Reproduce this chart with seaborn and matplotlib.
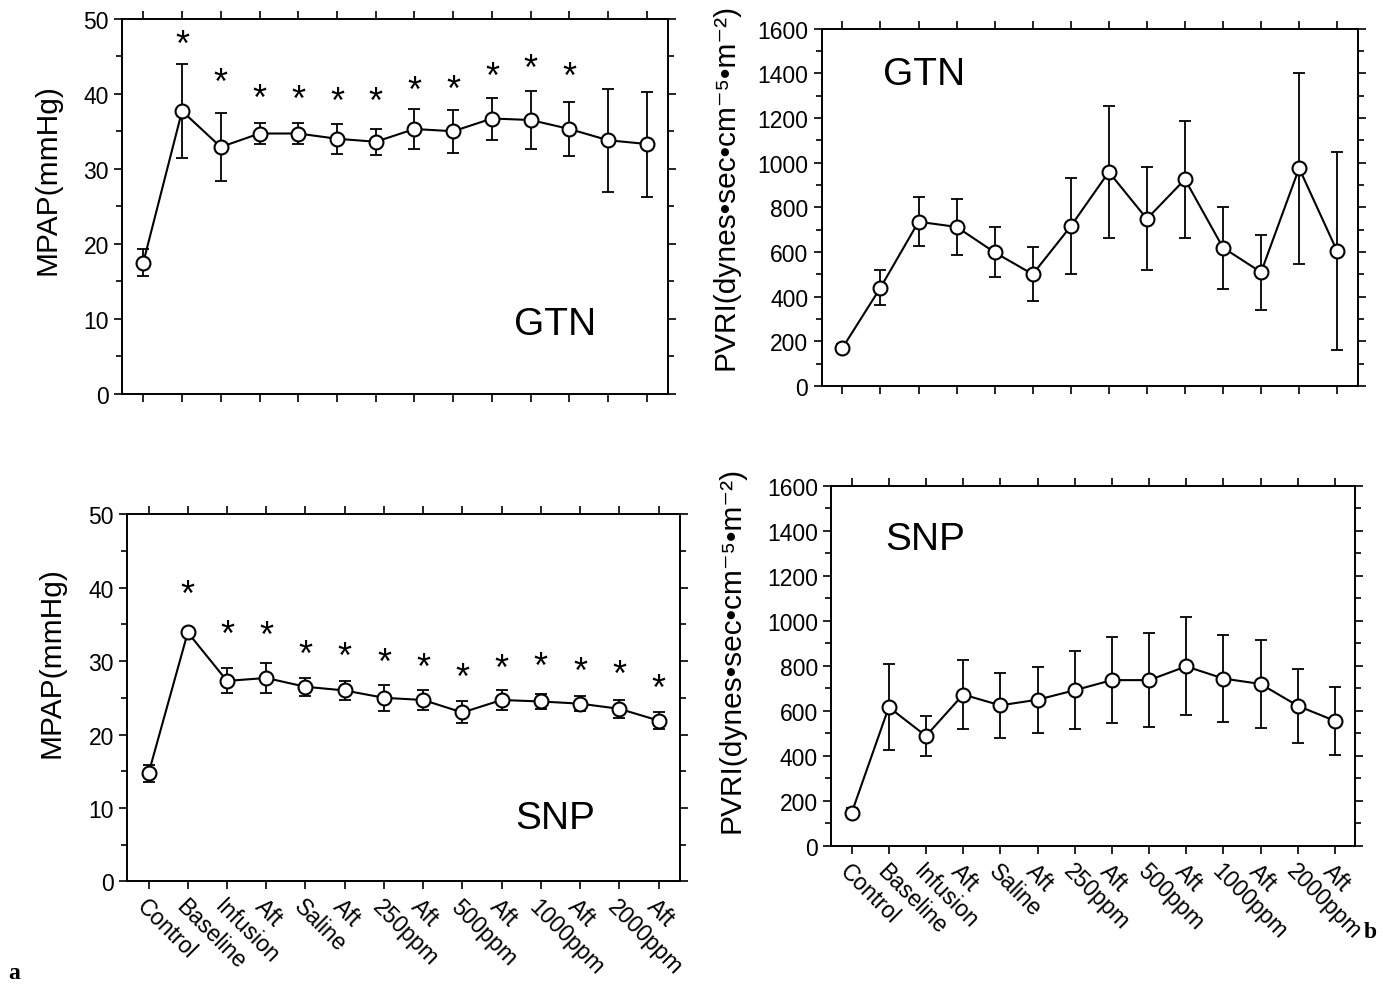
import matplotlib
matplotlib.use("Agg")
import matplotlib.pyplot as plt
from matplotlib.ticker import MultipleLocator
import numpy as np
import seaborn as sns

categories = ["Control", "Baseline", "Infusion", "Aft", "Saline", "Aft", "250ppm",
              "Aft", "500ppm", "Aft", "1000ppm", "Aft", "2000ppm", "Aft"]

# MPAP (mmHg), GTN group
gtn_mpap = [17.5, 37.7, 32.9, 34.7, 34.7, 34.0, 33.6, 35.3, 35.0, 36.7, 36.5, 35.3, 33.8, 33.3]
gtn_mpap_sd = [1.8, 6.3, 4.5, 1.4, 1.4, 2.0, 1.7, 2.7, 2.9, 2.8, 3.9, 3.6, 6.9, 7.0]
gtn_mpap_star = [np.nan, 46.4, 41.4, 39.3, 39.1, 38.9, 38.8, 40.3, 40.5, 42.2, 43.3, 42.2,
                 np.nan, np.nan]

# PVRI, GTN group
gtn_pvri = [170, 440, 735, 712, 598, 500, 715, 958, 748, 925, 619, 509, 975, 603]
gtn_pvri_sd = [18, 77, 110, 127, 112, 121, 215, 297, 231, 262, 184, 169, 428, 443]

# MPAP (mmHg), SNP group
snp_mpap = [14.7, 33.9, 27.3, 27.7, 26.5, 26.0, 25.0, 24.7, 23.0, 24.7, 24.5, 24.2, 23.5, 21.9]
snp_mpap_sd = [1.2, 0.3, 1.7, 2.0, 1.2, 1.3, 1.8, 1.3, 1.5, 1.4, 1.0, 1.0, 1.2, 1.2]
snp_mpap_star = [np.nan, 38.9, 33.5, 33.3, 30.8, 30.5, 29.7, 29.0, 27.7, 28.9, 29.1, 28.4,
                 28.1, 26.2]

# PVRI, SNP group
snp_pvri = [146, 616, 488, 672, 624, 649, 691, 736, 736, 797, 743, 719, 622, 555]
snp_pvri_sd = [20, 190, 88, 155, 145, 147, 173, 190, 210, 218, 192, 197, 165, 150]

sns.set_style("ticks")
plt.rcParams.update({
    "font.family": ["Liberation Sans", "DejaVu Sans"],
    "text.color": "black",
    "axes.labelcolor": "black",
    "axes.edgecolor": "black",
    "xtick.color": "black",
    "ytick.color": "black",
})

MPAP_LABEL = "MPAP(mmHg)"
PVRI_LABEL = "PVRI(dynes•sec•cm⁻⁵•m⁻²)"


def draw_panel(ax, mean, sd, ylim, major, minor, ylabel, label_xy, tag, tag_xy,
               stars=None, show_xlabels=False):
    x = np.arange(len(categories))
    ax.errorbar(x, mean, yerr=sd, fmt="none", ecolor="black", elinewidth=1.3,
                capsize=4, capthick=1.3, zorder=2)
    sns.lineplot(x=x, y=mean, ax=ax, color="black", linewidth=1.5, marker="o",
                 markersize=10, markerfacecolor="white", markeredgecolor="black",
                 markeredgewidth=1.5, zorder=3)
    if stars is not None:
        for xi, s in zip(x, stars):
            if not np.isnan(s):
                ax.text(xi, s, "*", ha="center", va="center", fontsize=26)

    ax.set_xlim(-0.55, 13.55)
    ax.set_ylim(*ylim)
    ax.yaxis.set_major_locator(MultipleLocator(major))
    ax.yaxis.set_minor_locator(MultipleLocator(minor))
    ax.set_xticks(x)
    if show_xlabels:
        ax.set_xticklabels(categories, rotation=-45, ha="left", va="top",
                           rotation_mode="anchor", fontsize=14.5)
    else:
        ax.set_xticklabels([])
    ax.tick_params(which="both", direction="out", top=True, right=True,
                   labelright=False, labeltop=False, width=1.2)
    ax.tick_params(which="major", length=6, labelsize=16.5)
    ax.tick_params(which="minor", length=4)
    for sp in ax.spines.values():
        sp.set_linewidth(1.4)
        sp.set_visible(True)

    ax.set_ylabel(ylabel, fontsize=21.5)
    ax.yaxis.set_label_coords(*label_xy)
    ax.set_xlabel("")
    ax.text(tag_xy[0], tag_xy[1], tag, transform=ax.transAxes, ha="center",
            va="center", fontsize=28)


fig = plt.figure(figsize=(13.83, 9.87), dpi=100)

ax1 = fig.add_axes([0.0882, 0.600, 0.395, 0.380])
ax2 = fig.add_axes([0.594, 0.608, 0.388, 0.362])
ax3 = fig.add_axes([0.0918, 0.106, 0.400, 0.372])
ax4 = fig.add_axes([0.601, 0.142, 0.379, 0.365])

draw_panel(ax1, gtn_mpap, gtn_mpap_sd, (0, 50), 10, 5, MPAP_LABEL, (-0.11, 0.573),
           "GTN", (0.793, 0.187), stars=gtn_mpap_star)
draw_panel(ax2, gtn_pvri, gtn_pvri_sd, (0, 1600), 200, 100, PVRI_LABEL, (-0.153, 0.56),
           "GTN", (0.192, 0.874))
draw_panel(ax3, snp_mpap, snp_mpap_sd, (0, 50), 10, 5, MPAP_LABEL, (-0.112, 0.598),
           "SNP", (0.774, 0.173), stars=snp_mpap_star, show_xlabels=True)
draw_panel(ax4, snp_pvri, snp_pvri_sd, (0, 1600), 200, 100, PVRI_LABEL, (-0.164, 0.547),
           "SNP", (0.179, 0.853), show_xlabels=True)

fig.text(0.006, 0.008, "a", family="Liberation Serif", fontweight="bold", fontsize=17)
fig.text(0.986, 0.050, "b", family="Liberation Serif", fontweight="bold", fontsize=17)

fig.savefig("out.png", dpi=100)
